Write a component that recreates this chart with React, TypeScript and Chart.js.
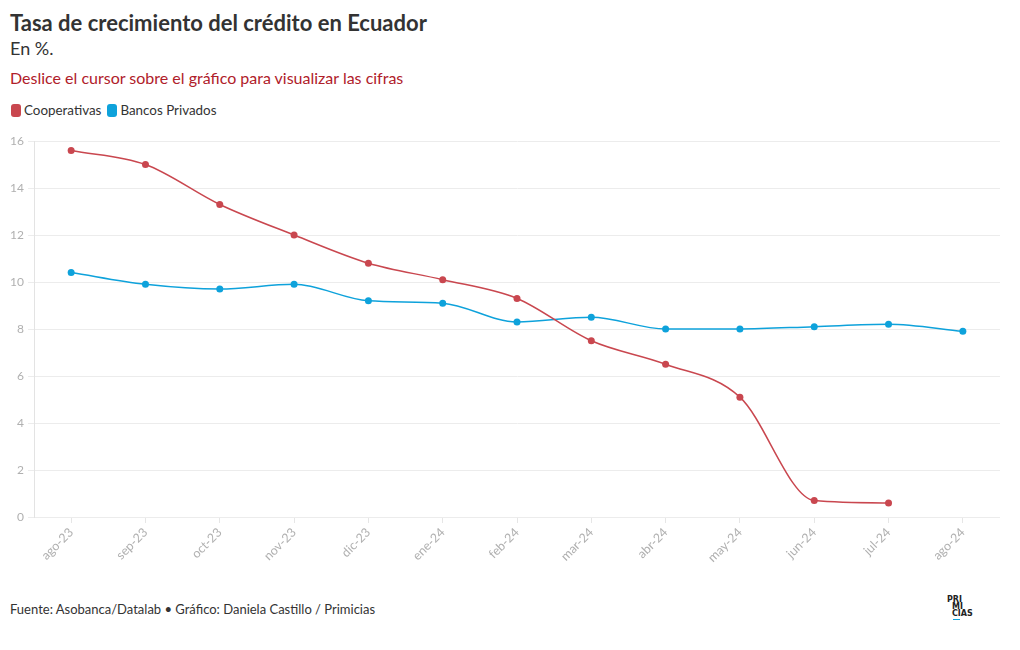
import React, { useEffect, useRef } from "react";
import { Chart, registerables } from "chart.js";

Chart.register(...registerables);

const months = ["ago-23", "sep-23", "oct-23", "nov-23", "dic-23", "ene-24", "feb-24", "mar-24", "abr-24", "may-24", "jun-24", "jul-24", "ago-24"];
const cooperativas = [15.6, 15.0, 13.3, 12.0, 10.8, 10.1, 9.3, 7.5, 6.5, 5.1, 0.7, 0.6, null];
const bancosPrivados = [10.4, 9.9, 9.7, 9.9, 9.2, 9.1, 8.3, 8.5, 8.0, 8.0, 8.1, 8.2, 7.9];
const yTicks = [0, 2, 4, 6, 8, 10, 12, 14, 16];

const RED = "#c9474f";
const BLUE = "#0ea2db";
const FONT = "Lato, 'Noto Sans', sans-serif";

export default function App() {
  const ref = useRef<HTMLCanvasElement | null>(null);

  useEffect(() => {
    if (!ref.current) return;
    const chart = new Chart(ref.current, {
      type: "line",
      data: {
        labels: months,
        datasets: [
          {
            label: "Cooperativas",
            data: cooperativas,
            borderColor: RED,
            backgroundColor: RED,
            borderWidth: 1.5,
            pointRadius: 3.5,
            pointBorderWidth: 0,
            cubicInterpolationMode: "monotone",
            spanGaps: false,
          },
          {
            label: "Bancos Privados",
            data: bancosPrivados,
            borderColor: BLUE,
            backgroundColor: BLUE,
            borderWidth: 1.5,
            pointRadius: 3.5,
            pointBorderWidth: 0,
            cubicInterpolationMode: "monotone",
          },
        ],
      },
      options: {
        animation: false,
        responsive: false,
        maintainAspectRatio: false,
        layout: { padding: { top: 12, right: 10, left: 0, bottom: 0 } },
        plugins: { legend: { display: false }, tooltip: { enabled: false } },
        scales: {
          x: {
            offset: true,
            grid: { display: true, drawOnChartArea: false, drawTicks: true, tickLength: 6, color: "#e6e6e6" },
            border: { display: false },
            ticks: {
              color: "#b0b0b0",
              font: { family: FONT, size: 12.5 },
              maxRotation: 45,
              minRotation: 45,
              autoSkip: false,
              padding: 2,
            },
            afterFit: (s: any) => { s.height = 50; },
          },
          y: {
            min: 0,
            max: 16,
            afterBuildTicks: (s: any) => { s.ticks = yTicks.map((v) => ({ value: v })); },
            grid: { color: "#ececec", tickLength: 6, lineWidth: 1 },
            border: { display: true, color: "#e3e3e3" },
            ticks: {
              color: "#b0b0b0",
              font: { family: FONT, size: 12 },
              padding: 4,
            },
            afterFit: (s: any) => { s.width = 34; },
          },
        },
      },
    });
    return () => chart.destroy();
  }, []);

  const sq = (c: string) => ({
    display: "inline-block",
    width: 10,
    height: 13,
    borderRadius: 3,
    background: c,
    marginRight: 3,
    verticalAlign: "-2px",
  });

  return (
    <div style={{ position: "absolute", left: 0, top: 0, width: 1020, height: 650, fontFamily: FONT, background: "#fff" }}>
      <div style={{ position: "absolute", left: 10, top: 9, fontSize: 22, fontWeight: 700, color: "#333", whiteSpace: "nowrap" }}>
        Tasa de crecimiento del crédito en Ecuador
      </div>
      <div style={{ position: "absolute", left: 10, top: 37, fontSize: 18, color: "#333" }}>En %.</div>
      <div style={{ position: "absolute", left: 10, top: 68, fontSize: 16, color: "#b0202a", whiteSpace: "nowrap" }}>
        Deslice el cursor sobre el gráfico para visualizar las cifras
      </div>
      <div style={{ position: "absolute", left: 11, top: 102, fontSize: 13.4, color: "#333", whiteSpace: "nowrap" }}>
        <span style={sq(RED)} />Cooperativas
        <span style={{ ...sq(BLUE), marginLeft: 6 }} />Bancos Privados
      </div>
      <canvas ref={ref} width={1010} height={438} style={{ position: "absolute", left: 0, top: 129, width: 1010, height: 438 }} />
      <div style={{ position: "absolute", left: 10, top: 601, fontSize: 13, color: "#333", whiteSpace: "nowrap" }}>
        Fuente: Asobanca/Datalab • Gráfico: Daniela Castillo / Primicias
      </div>
      <div style={{ position: "absolute", left: 947, top: 596, fontSize: 8, fontWeight: 700, lineHeight: "7px", color: "#222", fontFamily: "'DejaVu Sans', sans-serif" }}>
        <div>PRI</div>
        <div style={{ paddingLeft: 5 }}>MI</div>
        <div style={{ paddingLeft: 5 }}>CIAS</div>
        <div style={{ marginLeft: 6, marginTop: 2, width: 7, height: 1, background: BLUE }} />
      </div>
    </div>
  );
}
